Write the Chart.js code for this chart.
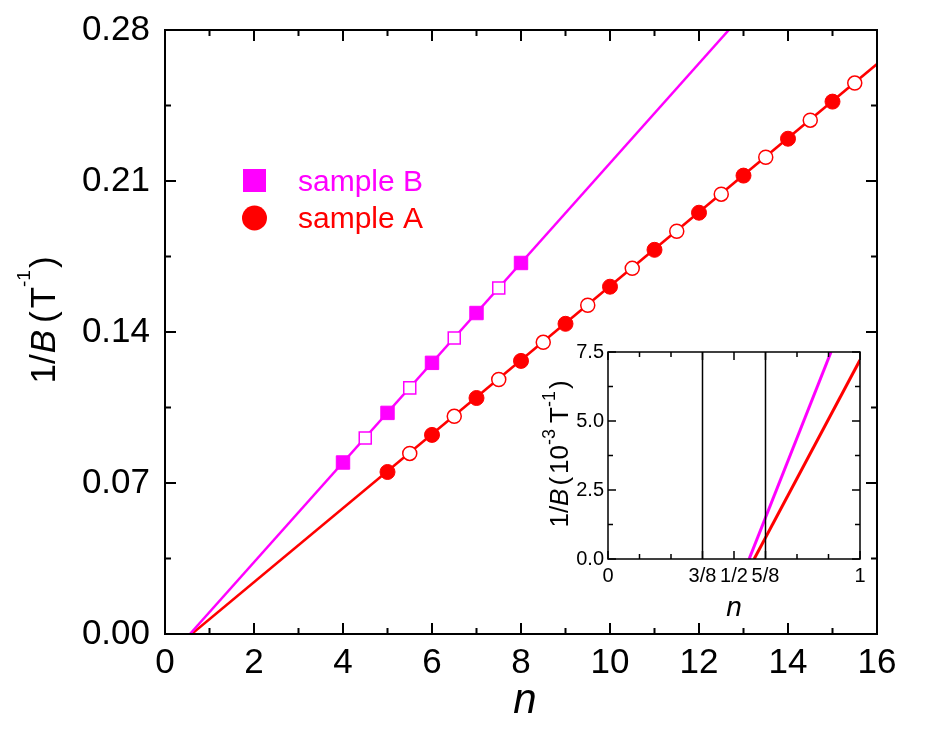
<!DOCTYPE html>
<html>
<head>
<meta charset="utf-8">
<script src="https://cdn.jsdelivr.net/npm/chart.js@4.4.1/dist/chart.umd.min.js"></script>
<style>
  html, body { margin: 0; padding: 0; background: #fff; }
  #wrap { position: relative; width: 927px; height: 735px; }
  #main { position: absolute; left: 0; top: 0; }
  #inset { position: absolute; left: 520px; top: 320px; }
</style>
</head>
<body>
<div id="wrap">
  <canvas id="main" width="927" height="735"></canvas>
  <canvas id="inset" width="360" height="310"></canvas>
</div>
<script>
// ---- main panel: 1/B (T^-1) against Landau index n ----
const xTicks = [0, 2, 4, 6, 8, 10, 12, 14, 16];
const xMinorTicks = [1, 3, 5, 7, 9, 11, 13, 15];
const yTicks = [0, 0.07, 0.14, 0.21, 0.28];
const yTickLabels = ['0.00', '0.07', '0.14', '0.21', '0.28'];
const yMinorTicks = [0.035, 0.105, 0.175, 0.245];

// sample B (magenta squares); whole n = filled, half n = open
const nB   = [4, 4.5, 5, 5.5, 6, 6.5, 7, 7.5, 8];
const invB = [0.0795, 0.0909, 0.1025, 0.1141, 0.1257, 0.1372, 0.1488, 0.1604, 0.1720];

// sample A (red circles)
const nA   = [5, 5.5, 6, 6.5, 7, 7.5, 8, 8.5, 9, 9.5, 10, 10.5,
              11, 11.5, 12, 12.5, 13, 13.5, 14, 14.5, 15, 15.5];
const invA = [0.0751, 0.0837, 0.0923, 0.1009, 0.1094, 0.1180, 0.1266, 0.1352, 0.1438, 0.1524, 0.1610, 0.1695,
              0.1781, 0.1867, 0.1953, 0.2039, 0.2125, 0.2210, 0.2296, 0.2382, 0.2468, 0.2554];

// straight fits, read at both ends
const fitB_n = [0.56, 12.67];
const fitB_inv = [0, 0.28];
const fitA_n = [0.6, 16];
const fitA_inv = [0, 0.2642];

// ---- inset: zoom on the intercept, 1/B in 10^-3 T^-1 ----
const insetXTicks = [0, 0.375, 0.5, 0.625, 1];
const insetXTickLabels = ['0', '3/8', '1/2', '5/8', '1'];
const insetXMinor = [0.125, 0.25, 0.75, 0.875];
const insetYTicks = [0, 2.5, 5, 7.5];
const insetYMinor = [1.25, 3.75, 6.25];
const insetFitB_n = [0.56, 0.885];
const insetFitB_inv = [0, 7.5];
const insetFitA_n = [0.58, 1];
const insetFitA_inv = [0, 7.21];
const guideN = [0.375, 0.625];   // vertical reference lines at 3/8 and 5/8
const guideInv = [0, 7.5];

const FONT = '"Liberation Sans", Arial, sans-serif';
const MAGENTA = '#ff00ff';
const RED = '#ff0000';

const pts = (xs, ys) => xs.map((x, i) => ({ x, y: ys[i] }));
const pick = (xs, ys, keep) => xs.map((x, i) => ({ x, y: ys[i] })).filter(p => keep(p.x));
const whole = n => Number.isInteger(n);

// text made of runs (italic letters, superscripts), centred on (x, y) baseline
function drawRuns(ctx, runs, base, x, y, rot) {
  ctx.save();
  ctx.translate(x, y);
  if (rot) ctx.rotate(-Math.PI / 2);
  ctx.textBaseline = 'alphabetic';
  ctx.textAlign = 'left';
  ctx.fillStyle = '#000';
  const fontOf = r => `${r.it ? 'italic ' : ''}${Math.round(base * (r.sup ? r.s : 1))}px ${FONT}`;
  let total = 0;
  runs.forEach(r => { ctx.font = fontOf(r); r.w = ctx.measureText(r.t).width; total += r.w + (r.gap || 0); });
  let cx = -total / 2;
  runs.forEach(r => {
    ctx.font = fontOf(r);
    ctx.fillText(r.t, cx, r.sup ? -base * r.up : 0);
    cx += r.w + (r.gap || 0);
  });
  ctx.restore();
}

// box round the plot with inward ticks on all four sides
const frameTicks = {
  id: 'frameTicks',
  afterDatasetsDraw(chart, args, o) {
    const { ctx, chartArea: a, scales: { x, y } } = chart;
    ctx.save();
    ctx.strokeStyle = '#000';
    ctx.lineWidth = o.width;
    ctx.beginPath();
    const vert = (v, len) => {
      const p = x.getPixelForValue(v);
      ctx.moveTo(p, a.bottom); ctx.lineTo(p, a.bottom - len);
      ctx.moveTo(p, a.top); ctx.lineTo(p, a.top + len);
    };
    const horz = (v, len) => {
      const p = y.getPixelForValue(v);
      ctx.moveTo(a.left, p); ctx.lineTo(a.left + len, p);
      ctx.moveTo(a.right, p); ctx.lineTo(a.right - len, p);
    };
    o.xMajor.forEach(v => vert(v, o.major));
    o.xMinor.forEach(v => vert(v, o.minor));
    o.yMajor.forEach(v => horz(v, o.major));
    o.yMinor.forEach(v => horz(v, o.minor));
    ctx.stroke();
    ctx.strokeRect(a.left, a.top, a.right - a.left, a.bottom - a.top);
    ctx.restore();
  }
};

const mainText = {
  id: 'mainText',
  afterDraw(chart) {
    const ctx = chart.ctx;
    drawRuns(ctx, [{ t: 'n', it: true }], 42, 525, 713, false);
    drawRuns(ctx, [
      { t: '1/', gap: 1 }, { t: 'B', it: true, gap: 7 }, { t: '(', gap: 3 }, { t: 'T', gap: 0 },
      { t: '-1', sup: true, s: 0.55, up: 0.72, gap: 2 }, { t: ')' }
    ], 35, 55, 320, true);

    // legend
    ctx.save();
    ctx.fillStyle = MAGENTA;
    ctx.fillRect(243, 169, 23, 23);
    ctx.fillStyle = RED;
    ctx.beginPath();
    ctx.arc(254.5, 218, 12.5, 0, Math.PI * 2);
    ctx.fill();
    ctx.font = `30px ${FONT}`;
    ctx.textBaseline = 'alphabetic';
    ctx.fillStyle = MAGENTA;
    ctx.fillText('sample B', 298, 191);
    ctx.fillStyle = RED;
    ctx.fillText('sample A', 298, 228);
    ctx.restore();
  }
};

const insetText = {
  id: 'insetText',
  afterDraw(chart) {
    const ctx = chart.ctx;
    drawRuns(ctx, [{ t: 'n', it: true }], 28, 214, 296, false);
    drawRuns(ctx, [
      { t: '1/' }, { t: 'B', it: true, gap: 3 }, { t: '(', gap: 3 }, { t: '10' },
      { t: '-3', sup: true, s: 0.7, up: 0.5, gap: 6 }, { t: 'T' },
      { t: '-1', sup: true, s: 0.7, up: 0.5, gap: 2 }, { t: ')' }
    ], 26, 48, 134, true);
  }
};

Chart.defaults.font.family = FONT;
Chart.defaults.color = '#000';

const hiddenGrid = { display: false, drawTicks: false };
// keep the plot box where the layout padding puts it, whatever the label overhang
const fixX = h => s => { s.height = h; s.paddingLeft = 0; s.paddingRight = 0; };
const fixY = w => s => { s.width = w; s.paddingTop = 0; s.paddingBottom = 0; };

new Chart(document.getElementById('main'), {
  type: 'scatter',
  data: {
    datasets: [
      { data: pts(fitB_n, fitB_inv), showLine: true, borderColor: MAGENTA, borderWidth: 2.5, pointRadius: 0, order: 3 },
      { data: pts(fitA_n, fitA_inv), showLine: true, borderColor: RED, borderWidth: 2.5, pointRadius: 0, order: 3 },
      { data: pick(nB, invB, whole), pointStyle: 'rect', pointRadius: 9.5, backgroundColor: MAGENTA, borderColor: MAGENTA, borderWidth: 1, order: 1 },
      { data: pick(nB, invB, n => !whole(n)), pointStyle: 'rect', pointRadius: 8.5, backgroundColor: '#fff', borderColor: MAGENTA, borderWidth: 1.5, order: 1 },
      { data: pick(nA, invA, whole), pointStyle: 'circle', pointRadius: 7.5, backgroundColor: RED, borderColor: RED, borderWidth: 1, order: 1 },
      { data: pick(nA, invA, n => !whole(n)), pointStyle: 'circle', pointRadius: 7, backgroundColor: '#fff', borderColor: RED, borderWidth: 1.5, order: 1 }
    ]
  },
  options: {
    responsive: false,
    animation: false,
    events: [],
    layout: { padding: { top: 30, right: 50, left: 0, bottom: 0 } },
    plugins: {
      legend: { display: false },
      tooltip: { enabled: false },
      frameTicks: { width: 2, major: 11, minor: 6, xMajor: xTicks, xMinor: xMinorTicks, yMajor: yTicks, yMinor: yMinorTicks }
    },
    scales: {
      x: {
        type: 'linear', min: 0, max: 16,
        afterBuildTicks: s => { s.ticks = xTicks.map(v => ({ value: v })); },
        afterFit: fixX(101),
        grid: hiddenGrid, border: { display: false },
        ticks: { font: { size: 35 }, padding: 8, maxRotation: 0, autoSkip: false, callback: v => String(v) }
      },
      y: {
        type: 'linear', min: 0, max: 0.28,
        afterBuildTicks: s => { s.ticks = yTicks.map(v => ({ value: v })); },
        afterFit: fixY(165),
        grid: hiddenGrid, border: { display: false },
        ticks: { font: { size: 35 }, padding: 15, autoSkip: false, callback: (v, i) => yTickLabels[i] }
      }
    }
  },
  plugins: [frameTicks, mainText]
});

new Chart(document.getElementById('inset'), {
  type: 'scatter',
  data: {
    datasets: [
      { data: pts([guideN[0], guideN[0]], guideInv), showLine: true, borderColor: '#000', borderWidth: 1.5, pointRadius: 0 },
      { data: pts([guideN[1], guideN[1]], guideInv), showLine: true, borderColor: '#000', borderWidth: 1.5, pointRadius: 0 },
      { data: pts(insetFitB_n, insetFitB_inv), showLine: true, borderColor: MAGENTA, borderWidth: 3, pointRadius: 0 },
      { data: pts(insetFitA_n, insetFitA_inv), showLine: true, borderColor: RED, borderWidth: 3, pointRadius: 0 }
    ]
  },
  options: {
    responsive: false,
    animation: false,
    events: [],
    layout: { padding: { top: 32, right: 20, left: 0, bottom: 0 } },
    plugins: {
      legend: { display: false },
      tooltip: { enabled: false },
      frameTicks: { width: 1.5, major: 8, minor: 5, xMajor: insetXTicks, xMinor: insetXMinor, yMajor: insetYTicks, yMinor: insetYMinor }
    },
    scales: {
      x: {
        type: 'linear', min: 0, max: 1,
        afterBuildTicks: s => { s.ticks = insetXTicks.map(v => ({ value: v })); },
        afterFit: fixX(71),
        grid: hiddenGrid, border: { display: false },
        ticks: { font: { size: 20 }, padding: 5, maxRotation: 0, autoSkip: false, callback: (v, i) => insetXTickLabels[i] }
      },
      y: {
        type: 'linear', min: 0, max: 7.5,
        afterBuildTicks: s => { s.ticks = insetYTicks.map(v => ({ value: v })); },
        afterFit: fixY(88),
        grid: hiddenGrid, border: { display: false },
        ticks: { font: { size: 20 }, padding: 4, autoSkip: false, callback: v => v.toFixed(1) }
      }
    }
  },
  plugins: [frameTicks, insetText]
});
</script>
</body>
</html>
